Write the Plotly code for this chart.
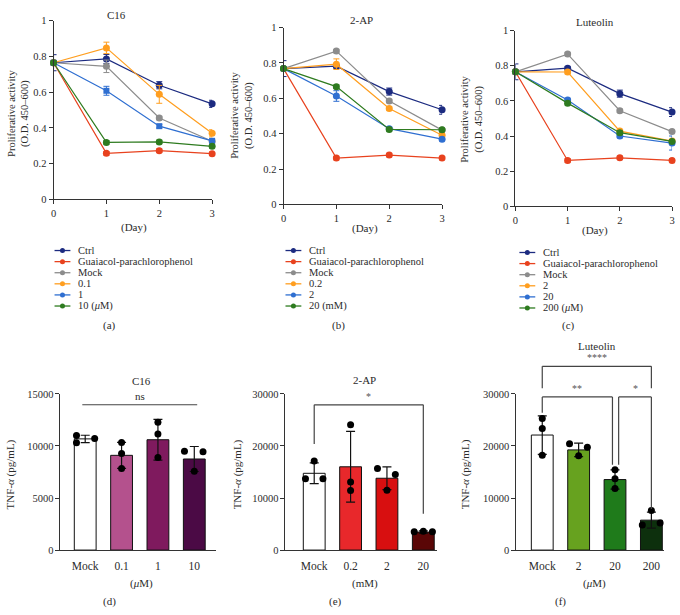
import plotly.graph_objects as go

# ---------------- data: proliferation (top row) ----------------
days = [0, 1, 2, 3]
series_colors = ["#1c2b80", "#e8421e", "#8c8c8c", "#ff9e1f", "#2f6fd1", "#2e7b1f"]

c16_names = ["Ctrl", "Guaiacol-parachlorophenol", "Mock", "0.1", "1", "10 (<i>μ</i>M)"]
c16_ctrl = [0.765, 0.786, 0.639, 0.535]
c16_gpc = [0.765, 0.258, 0.273, 0.256]
c16_mock = [0.765, 0.745, 0.456, 0.326]
c16_d1 = [0.765, 0.848, 0.588, 0.37]
c16_d2 = [0.765, 0.608, 0.41, 0.328]
c16_d3 = [0.765, 0.319, 0.322, 0.297]
c16_err = [[0.045, 0.025, 0.02, 0.02], [0.01, 0.01, 0.01, 0.01], [0.01, 0.035, 0.01, 0.01],
           [0.01, 0.032, 0.05, 0.02], [0.01, 0.025, 0.01, 0.01], [0.01, 0.01, 0.01, 0.01]]

ap_names = ["Ctrl", "Guaiacol-parachlorophenol", "Mock", "0.2", "2", "20 (mM)"]
ap_ctrl = [0.768, 0.782, 0.638, 0.535]
ap_gpc = [0.768, 0.262, 0.279, 0.262]
ap_mock = [0.768, 0.867, 0.585, 0.42]
ap_d1 = [0.768, 0.793, 0.542, 0.391]
ap_d2 = [0.768, 0.613, 0.428, 0.369]
ap_d3 = [0.768, 0.666, 0.424, 0.422]
ap_err = [[0.045, 0.01, 0.02, 0.025], [0.01, 0.01, 0.01, 0.01], [0.01, 0.01, 0.01, 0.01],
          [0.01, 0.03, 0.01, 0.02], [0.01, 0.03, 0.01, 0.01], [0.01, 0.01, 0.01, 0.01]]

lut_names = ["Ctrl", "Guaiacol-parachlorophenol", "Mock", "2", "20", "200 (<i>μ</i>M)"]
lut_ctrl = [0.765, 0.786, 0.641, 0.536]
lut_gpc = [0.765, 0.261, 0.276, 0.261]
lut_mock = [0.765, 0.866, 0.544, 0.425]
lut_d1 = [0.765, 0.764, 0.428, 0.371]
lut_d2 = [0.765, 0.605, 0.40, 0.36]
lut_d3 = [0.765, 0.587, 0.419, 0.369]
lut_err = [[0.045, 0.01, 0.02, 0.025], [0.01, 0.01, 0.01, 0.01], [0.01, 0.01, 0.01, 0.01],
           [0.01, 0.01, 0.01, 0.01], [0.01, 0.01, 0.01, 0.04], [0.01, 0.01, 0.01, 0.01]]

# ---------------- data: TNF-alpha (bottom row) ----------------
d_cats = ["Mock", "0.1", "1", "10"]
d_means = [10680, 9100, 10600, 8750]
d_sds = [350, 1250, 1950, 1200]
d_points = [[11000, 10310, 10720], [10340, 9280, 7840], [12280, 11160, 8900], [9500, 9440, 7560]]
d_jitter = [[-0.24, -0.24, 0.26], [0, 0, 0], [0, 0, 0], [-0.27, 0.24, 0]]
d_colors = ["#ffffff", "#b4518d", "#7f1a5e", "#4b0a45"]

e_cats = ["Mock", "0.2", "2", "20"]
e_means = [14750, 16000, 13800, 3450]
e_sds = [2000, 6800, 2200, 250]
e_points = [[17120, 13690, 13690], [24060, 13060, 11440], [15660, 14530, 11510], [3500, 3600, 3500]]
e_jitter = [[0, -0.24, 0.24], [0, 0, 0], [-0.26, 0.23, 0], [-0.25, 0, 0.25]]
e_colors = ["#ffffff", "#e8282b", "#d80f10", "#5a0606"]

f_cats = ["Mock", "2", "20", "200"]
f_means = [22100, 19250, 13550, 5750]
f_sds = [3700, 1300, 1850, 1550]
f_points = [[25280, 23340, 18240], [20440, 19750, 18125], [15440, 13690, 11810], [7625, 4810, 5190]]
f_jitter = [[0, 0, 0], [-0.25, 0.24, 0], [0, 0, 0], [0, -0.25, 0.24]]
f_colors = ["#ffffff", "#67a21f", "#1f7b1b", "#0d300d"]

# significance brackets: (x_left, x_right, y_top, y_left_end, y_right_end, label)
e_brackets = [(0, 3, 27900, 20400, 7000, "*")]
f_brackets = [(0, 3, 35300, 31100, 31100, "****"),
              (0, 1.93, 29430, 26400, 16400, "**"),
              (2.10, 3, 29430, 16400, 7900, "*")]
d_ns = (0, 3, 13960, "ns")

# ---------------- layout helpers ----------------
W, H = 680, 615
FONT = "Liberation Serif"
TXT = "#2b2b2b"
AX = "#333333"


def fx(px):
    return px / W


def fy(py):
    return 1 - py / H


fig = go.Figure()

top_panels = [
    ("x", "y", [c16_ctrl, c16_gpc, c16_mock, c16_d1, c16_d2, c16_d3], c16_err, c16_names),
    ("x2", "y2", [ap_ctrl, ap_gpc, ap_mock, ap_d1, ap_d2, ap_d3], ap_err, ap_names),
    ("x3", "y3", [lut_ctrl, lut_gpc, lut_mock, lut_d1, lut_d2, lut_d3], lut_err, lut_names),
]

for pi, (xa, ya, series, errs, names) in enumerate(top_panels):
    for si, vals in enumerate(series):
        sym = "square" if (pi == 0 and si == 4) else "circle"
        fig.add_trace(go.Scatter(
            x=days, y=vals, xaxis=xa, yaxis=ya, mode="lines+markers",
            line=dict(color=series_colors[si], width=1.2),
            marker=dict(color=series_colors[si], size=7 if sym == "circle" else 6, symbol=sym),
            error_y=dict(type="data", array=errs[si], color=series_colors[si], thickness=1, width=3),
            cliponaxis=False, showlegend=False, name=names[si]))

bottom_panels = [
    ("x4", "y4", d_means, d_sds, d_points, d_jitter, d_colors),
    ("x5", "y5", e_means, e_sds, e_points, e_jitter, e_colors),
    ("x6", "y6", f_means, f_sds, f_points, f_jitter, f_colors),
]
for xa, ya, means, sds, pts, jit, cols in bottom_panels:
    pos = list(range(len(means)))
    fig.add_trace(go.Bar(
        x=pos, y=means, xaxis=xa, yaxis=ya, width=0.6,
        marker=dict(color=cols, line=dict(color="#111111", width=1)),
        error_y=dict(type="data", array=sds, color="#111111", thickness=1.2, width=4.5),
        showlegend=False))
    px_, py_ = [], []
    for i, (grp, jg) in enumerate(zip(pts, jit)):
        for v, j in zip(grp, jg):
            px_.append(i + j)
            py_.append(v)
    fig.add_trace(go.Scatter(
        x=px_, y=py_, xaxis=xa, yaxis=ya, mode="markers",
        marker=dict(color="#000000", size=7), cliponaxis=False, showlegend=False))

# ---------------- axes ----------------
axis_common = dict(showgrid=False, zeroline=False, showline=True, linecolor=AX, linewidth=1,
                   ticks="outside", ticklen=4, tickcolor=AX, tickwidth=1,
                   tickfont=dict(family=FONT, size=10.5, color=TXT))

top_geo = [  # x0,x1 px ; y0(bottom), y1(top) px
    (51, 211, 198, 16),
    (283, 443, 203, 23),
    (517, 675, 205, 26),
]
for i, (x0, x1, yb, yt) in enumerate(top_geo):
    n = "" if i == 0 else str(i + 1)
    fig.layout["xaxis" + n] = dict(axis_common, domain=[fx(x0), fx(x1)], range=[0, 3],
                                  tickvals=days, anchor="y" + n)
    fig.layout["yaxis" + n] = dict(axis_common, domain=[fy(yb), fy(yt)], range=[0, 1],
                                  tickvals=[0, 0.2, 0.4, 0.6, 0.8, 1],
                                  ticktext=["0", "0.2", "0.4", "0.6", "0.8", "1"], anchor="x" + n)

bot_geo = [  # x0,x1 px, xrange, ymax, dtick, cats
    (58, 215, [-0.68, 3.6], 15000, 5000, d_cats),
    (285, 438, [-0.79, 3.38], 30000, 10000, e_cats),
    (518, 667, [-0.71, 3.35], 30000, 10000, f_cats),
]
for i, (x0, x1, xr, ymax, dt, cats) in enumerate(bot_geo):
    n = str(i + 4)
    fig.layout["xaxis" + n] = dict(axis_common, domain=[fx(x0), fx(x1)], range=xr,
                                  tickvals=list(range(len(cats))), ticktext=cats, ticks="",
                                  ticklabelstandoff=5,
                                  tickfont=dict(family=FONT, size=11.5, color=TXT), anchor="y" + n)
    fig.layout["yaxis" + n] = dict(axis_common, domain=[fy(555), fy(396)], range=[0, ymax],
                                  tickvals=list(range(0, ymax + 1, dt)), tickformat="d",
                                  anchor="x" + n)

# overlay pixel axis for legend swatches
fig.layout["xaxis7"] = dict(domain=[0, 1], range=[0, W], visible=False, anchor="y7")
fig.layout["yaxis7"] = dict(domain=[0, 1], range=[H, 0], visible=False, anchor="x7")

annotations = []
shapes = []


def ann(text, x, y, size=11, angle=0, xanchor="center", **kw):
    annotations.append(dict(text=text, x=fx(x), y=fy(y), xref="paper", yref="paper",
                            showarrow=False, textangle=angle, xanchor=xanchor, yanchor="middle",
                            font=dict(family=FONT, size=size, color=TXT), **kw))


# titles
ann("C16", 115, 10)
ann("2-AP", 362, 15)
ann("Luteolin", 597, 17)
for xc, yc in [(16, 110), (241, 112), (473, 116)]:
    ann("Proliferative activity<br>(O.D. 450–600)", xc, yc, size=10.5, angle=-90)
for xc, yc in [(132, 227), (365, 228), (597, 230)]:
    ann("(Day)", xc, yc)
for lab, xc in [("(a)", 107), ("(b)", 338), ("(c)", 571)]:
    ann(lab, xc, 326)

# legends (drawn on the overlay pixel axis)
leg_geo = [(52, 250, c16_names), (285, 250, ap_names), (521, 252, lut_names)]
for lx, ly, names in leg_geo:
    for si, nm in enumerate(names):
        yy = ly + si * 11.3
        fig.add_trace(go.Scatter(x=[lx, lx + 16], y=[yy, yy], xaxis="x7", yaxis="y7", mode="lines",
                                 line=dict(color=series_colors[si], width=1.3), showlegend=False,
                                 hoverinfo="skip"))
        fig.add_trace(go.Scatter(x=[lx + 8], y=[yy], xaxis="x7", yaxis="y7", mode="markers",
                                 marker=dict(color=series_colors[si], size=5), showlegend=False,
                                 hoverinfo="skip"))
        ann(nm, lx + 22, yy, size=10.5, xanchor="left")

# bottom titles and labels
ann("C16", 140, 383)
ann("2-AP", 365, 382)
ann("Luteolin", 599, 347)
for xc in [8, 237, 467]:
    ann("TNF-<i>α</i> (pg/mL)", xc, 478, angle=-90)
ann("(<i>μ</i>M)", 140, 589)
ann("(mM)", 365, 589)
ann("(<i>μ</i>M)", 597, 589)
ann("(d)", 107, 607)
ann("(e)", 335, 607)
ann("(f)", 562, 607)


def add_bracket(xa, ya, ymax, br):
    xl, xr_, yt, yle, yre, lab = br
    s = dict(xref=xa, yref=ya + " domain", line=dict(color="#444444", width=1.2))
    shapes.append(dict(type="line", x0=xl, x1=xr_, y0=yt / ymax, y1=yt / ymax, **s))
    shapes.append(dict(type="line", x0=xl, x1=xl, y0=yt / ymax, y1=yle / ymax, **s))
    shapes.append(dict(type="line", x0=xr_, x1=xr_, y0=yt / ymax, y1=yre / ymax, **s))
    annotations.append(dict(text=lab, x=(xl + xr_) / 2, y=yt / ymax, xref=xa, yref=ya + " domain",
                            showarrow=False, yanchor="bottom", yshift=1,
                            font=dict(family=FONT, size=10, color="#555555")))


for br in e_brackets:
    add_bracket("x5", "y5", 30000, br)
for br in f_brackets:
    add_bracket("x6", "y6", 30000, br)

# ns line for C16
xl, xr_, yv, lab = d_ns
shapes.append(dict(type="line", xref="x4", yref="y4 domain", x0=xl - 0.08, x1=xr_ + 0.08,
                   y0=yv / 15000, y1=yv / 15000, line=dict(color="#444444", width=1.2)))
annotations.append(dict(text=lab, x=(xl + xr_) / 2, y=yv / 15000, xref="x4", yref="y4 domain",
                        showarrow=False, yanchor="bottom", yshift=1,
                        font=dict(family=FONT, size=11, color=TXT)))

fig.update_layout(width=W, height=H, margin=dict(l=0, r=0, t=0, b=0),
                  paper_bgcolor="white", plot_bgcolor="rgba(0,0,0,0)",
                  annotations=annotations, shapes=shapes, showlegend=False,
                  bargap=0.4)

fig.write_html("out.html", config={"displayModeBar": False},
               post_script="document.body.style.margin='0px';")
